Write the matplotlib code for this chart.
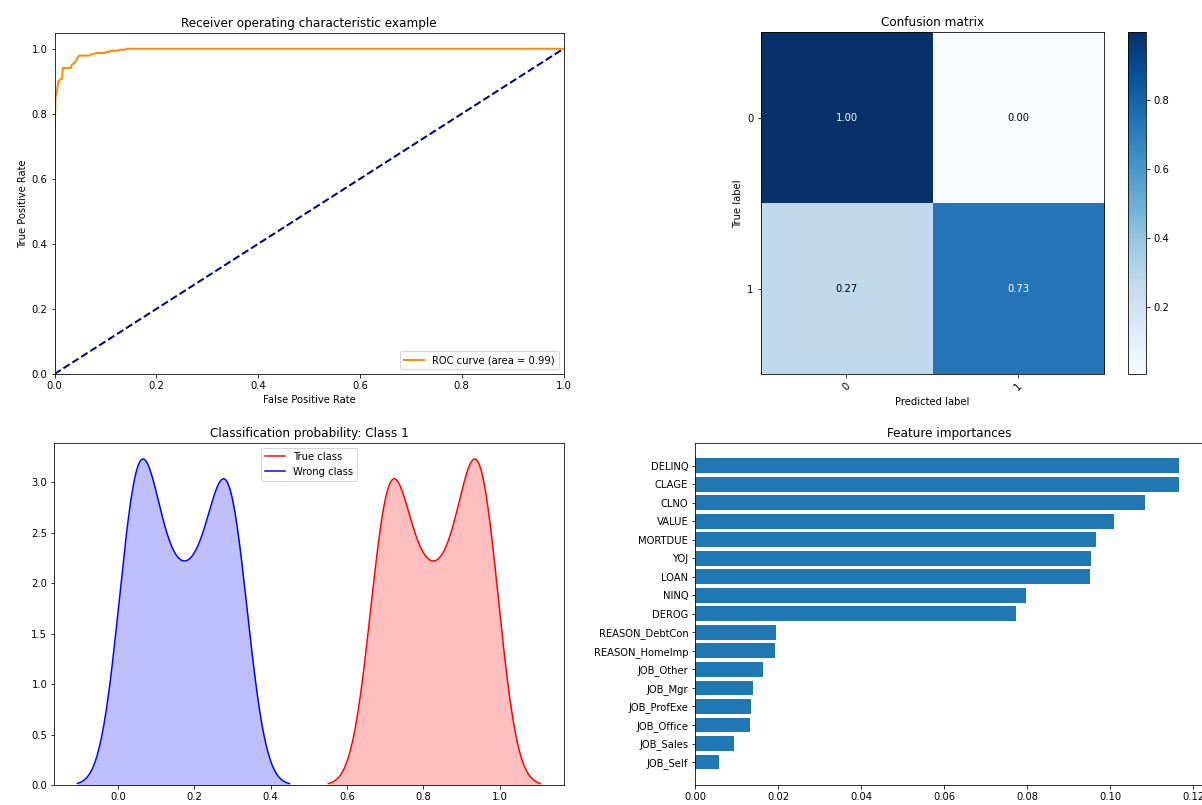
import numpy as np
import matplotlib
matplotlib.use("Agg")
import matplotlib.pyplot as plt

# ROC curve (corner points)
fpr = [0, 0, 0.002, 0.004, 0.0075, 0.012, 0.015, 0.016, 0.017, 0.032, 0.034, 0.039, 0.043,
       0.048, 0.068, 0.071, 0.083, 0.099, 0.101, 0.109, 0.110, 0.124, 0.128, 0.139, 0.141, 1.0]
tpr = [0, 0.715, 0.853, 0.862, 0.900, 0.906, 0.908, 0.937, 0.941, 0.941, 0.951, 0.956, 0.966,
       0.979, 0.979, 0.982, 0.987, 0.987, 0.990, 0.991, 0.994, 0.994, 0.997, 0.997, 1.0, 1.0]
roc_auc = 0.99

# normalised confusion matrix
classes = ["0", "1"]
cm = np.array([[0.9965, 0.0035],
               [0.2667, 0.7333]])

# class-1 probability given to the wrong class (true class mirrors it: 1 - p)
wrong_probs = [0.003, 0.02, 0.04, 0.06, 0.08, 0.10, 0.12, 0.14, 0.16,
               0.18, 0.20, 0.22, 0.24, 0.26, 0.28, 0.30, 0.32, 0.34]
wrong_counts = [1, 3, 4, 4, 4, 2, 2, 2, 2, 2, 2, 2, 2, 3, 4, 4, 3, 1]

# feature importances, top to bottom
features = ["DELINQ", "CLAGE", "CLNO", "VALUE", "MORTDUE", "YOJ", "LOAN", "NINQ", "DEROG",
            "REASON_DebtCon", "REASON_HomeImp", "JOB_Other", "JOB_Mgr", "JOB_ProfExe",
            "JOB_Office", "JOB_Sales", "JOB_Self"]
importances = [0.1167, 0.1165, 0.1084, 0.1008, 0.0965, 0.0954, 0.0951, 0.0796, 0.0774,
               0.0194, 0.0192, 0.0162, 0.0140, 0.0134, 0.0132, 0.0094, 0.0058]


def kde(samples, bw=0.042, cut=2.6, gridsize=200):
    grid = np.linspace(samples.min() - cut * bw, samples.max() + cut * bw, gridsize)
    z = (grid[:, None] - samples[None, :]) / bw
    dens = np.exp(-0.5 * z ** 2).sum(axis=1) / (len(samples) * bw * np.sqrt(2 * np.pi))
    return grid, dens


W, H = 1202, 805
fig = plt.figure(figsize=(W / 72, H / 72), dpi=72)

# --- ROC ---
ax1 = fig.add_axes([54.5 / W, 1 - 374 / H, 509 / W, 341.5 / H])
ax1.plot(fpr, tpr, color="darkorange", lw=2, label="ROC curve (area = %0.2f)" % roc_auc)
ax1.plot([0, 1], [0, 1], color="navy", lw=2, linestyle="--")
ax1.set_xlim([0.0, 1.0])
ax1.set_ylim([0.0, 1.05])
ax1.set_xlabel("False Positive Rate")
ax1.set_ylabel("True Positive Rate")
ax1.set_title("Receiver operating characteristic example")
ax1.legend(loc="lower right")

# --- confusion matrix ---
ax2 = fig.add_axes([760.5 / W, 1 - 374.3 / H, 343.8 / W, 342 / H])
im = ax2.imshow(cm, interpolation="nearest", cmap=plt.cm.Blues, aspect="auto")
ax2.set_title("Confusion matrix")
cax = fig.add_axes([1127.7 / W, 1 - 374.3 / H, 18.3 / W, 342 / H])
fig.colorbar(im, cax=cax)
ticks = np.arange(len(classes))
ax2.set_xticks(ticks)
ax2.set_xticklabels(classes, rotation=45)
ax2.set_yticks(ticks)
ax2.set_yticklabels(classes)
thresh = cm.max() / 2.
for i in range(cm.shape[0]):
    for j in range(cm.shape[1]):
        ax2.text(j, i, format(cm[i, j], ".2f"), ha="center", va="center",
                 color="white" if cm[i, j] > thresh else "black")
ax2.set_ylabel("True label")
ax2.set_xlabel("Predicted label")

# --- classification probability ---
ax3 = fig.add_axes([54.3 / W, 1 - 785 / H, 509.2 / W, 342.3 / H])
wrong = np.repeat(wrong_probs, wrong_counts)
true = 1 - wrong
for samples, col, lab in [(true, "r", "True class"), (wrong, "b", "Wrong class")]:
    x, y = kde(samples)
    ax3.plot(x, y, color=col, lw=1.5, label=lab)
    ax3.fill_between(x, y, color=col, alpha=0.25, lw=0)
ax3.set_ylim(bottom=0)
ax3.set_title("Classification probability: Class 1")
ax3.legend(loc="upper center")

# --- feature importances ---
ax4 = fig.add_axes([695.3 / W, 1 - 785 / H, 508.4 / W, 342.3 / H])
pos = np.arange(len(features))
ax4.barh(pos, importances[::-1], align="center")
ax4.set_yticks(pos)
ax4.set_yticklabels(features[::-1])
ax4.set_title("Feature importances")

fig.savefig("out.png", dpi=72)
